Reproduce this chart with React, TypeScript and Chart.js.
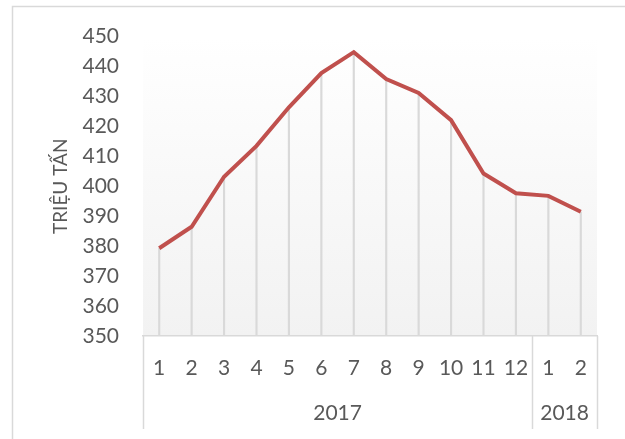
import React, { useEffect, useRef } from "react";
import { Chart, registerables } from "chart.js";

Chart.register(...registerables);

const months = ["1", "2", "3", "4", "5", "6", "7", "8", "9", "10", "11", "12", "1", "2"];
const yearOfMonth = ["2017", "2017", "2017", "2017", "2017", "2017", "2017", "2017", "2017", "2017", "2017", "2017", "2018", "2018"];
const values = [379.3, 386.5, 403.2, 413.5, 426.4, 437.8, 444.8, 435.8, 431.2, 422.1, 404.3, 397.7, 396.8, 391.5];
const yMin = 350;
const yMax = 450;
const yStep = 10;
const yTitle = "TRIỆU TẤN";

const FONT = "Lato, 'Open Sans', sans-serif";
const TEXT = "#595959";
const LINE_GRAY = "#d9d9d9";

const decorPlugin = {
  id: "decor",
  beforeDraw(chart: any) {
    const { ctx, chartArea } = chart;
    ctx.save();
    ctx.strokeStyle = LINE_GRAY;
    ctx.lineWidth = 1.5;
    ctx.strokeRect(12.5, 6.5, 800, 600);
    const g = ctx.createLinearGradient(0, chartArea.top, 0, chartArea.bottom);
    g.addColorStop(0, "#ffffff");
    g.addColorStop(1, "#f2f2f2");
    ctx.fillStyle = g;
    ctx.fillRect(chartArea.left, chartArea.top, chartArea.right - chartArea.left, chartArea.bottom - chartArea.top);
    ctx.restore();
  },
  afterDraw(chart: any) {
    const { ctx, chartArea } = chart;
    const xs = chart.scales.x;
    const bottom = chartArea.bottom;
    const sepBottom = 429;
    const yearY = 413;
    ctx.save();
    ctx.strokeStyle = LINE_GRAY;
    ctx.lineWidth = 1.5;
    const groups: { year: string; start: number; end: number }[] = [];
    yearOfMonth.forEach((y, i) => {
      const last = groups[groups.length - 1];
      if (last && last.year === y) last.end = i;
      else groups.push({ year: y, start: i, end: i });
    });
    const half = (xs.getPixelForTick(1) - xs.getPixelForTick(0)) / 2;
    const edges: number[] = [];
    groups.forEach((g, gi) => {
      const l = xs.getPixelForTick(g.start) - half;
      const r = xs.getPixelForTick(g.end) + half;
      if (gi === 0) edges.push(l);
      edges.push(r);
      ctx.fillStyle = TEXT;
      ctx.font = `21px ${FONT}`;
      ctx.textAlign = "center";
      ctx.textBaseline = "middle";
      ctx.fillText(g.year, (l + r) / 2, yearY);
    });
    edges.forEach((x) => {
      ctx.beginPath();
      ctx.moveTo(Math.round(x) + 0.5, bottom);
      ctx.lineTo(Math.round(x) + 0.5, sepBottom);
      ctx.stroke();
    });
    ctx.restore();
  },
};

export default function App() {
  const ref = useRef<HTMLCanvasElement | null>(null);
  useEffect(() => {
    document.body.style.margin = "0";
    const canvas = ref.current!;
    const chart = new Chart(canvas, {
      type: "line",
      data: {
        labels: months,
        datasets: [
          {
            type: "line",
            data: values,
            borderColor: "#c0504d",
            borderWidth: 4,
            pointRadius: 0,
            tension: 0,
            order: 0,
          } as any,
          {
            type: "bar",
            data: values,
            backgroundColor: LINE_GRAY,
            barThickness: 1.5,
            order: 1,
          } as any,
        ],
      },
      options: {
        responsive: false,
        animation: false,
        devicePixelRatio: 1,
        layout: { padding: { top: 35, right: 28, left: 0, bottom: 0 } },
        plugins: { legend: { display: false }, tooltip: { enabled: false }, title: { display: false } },
        scales: {
          x: {
            offset: true,
            grid: { display: false, drawTicks: false },
            border: { display: true, color: LINE_GRAY, width: 1.5 },
            ticks: {
              color: TEXT,
              font: { family: FONT, size: 21 },
              padding: 20,
              autoSkip: false,
              maxRotation: 0,
            },
            afterFit: (s: any) => {
              s.height = 103;
            },
          },
          y: {
            min: yMin,
            max: yMax,
            grid: { display: false, drawTicks: false },
            border: { display: false },
            ticks: {
              stepSize: yStep,
              color: TEXT,
              font: { family: FONT, size: 21 },
              padding: 24,
            },
            title: {
              display: true,
              text: yTitle,
              color: TEXT,
              font: { family: FONT, size: 19 },
              padding: { top: 49, bottom: 0 },
            },
            afterFit: (s: any) => {
              s.width = 143;
            },
          },
        },
      },
      plugins: [decorPlugin],
    });
    return () => chart.destroy();
  }, []);
  return (
    <div style={{ width: 625, height: 439 }}>
      <canvas ref={ref} width={625} height={439} style={{ display: "block" }} />
    </div>
  );
}
